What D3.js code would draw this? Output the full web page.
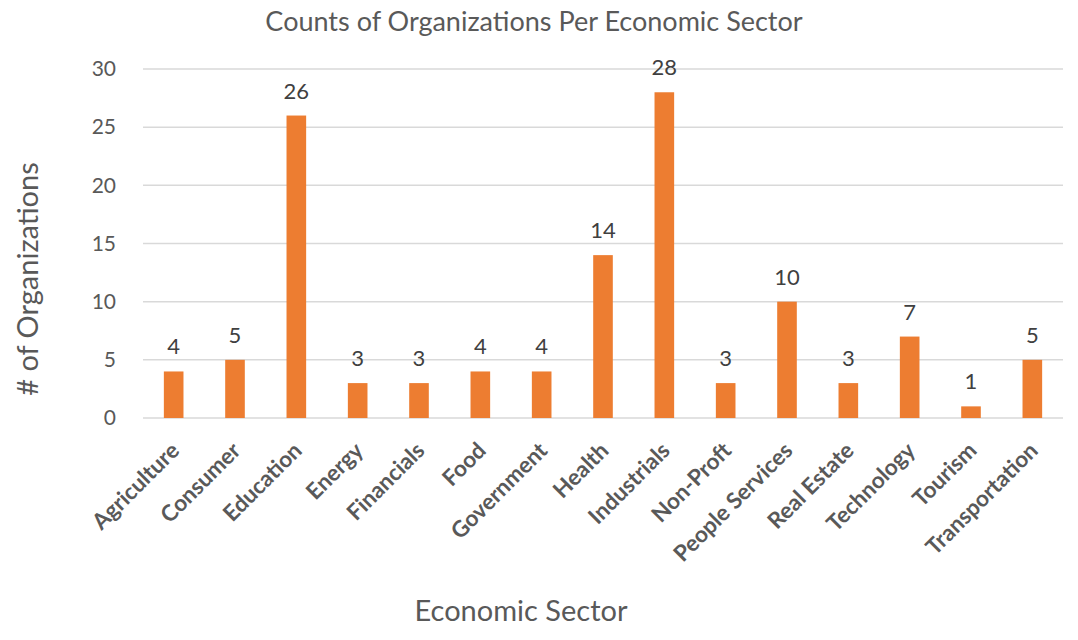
<!DOCTYPE html>
<html>
<head>
<meta charset="utf-8">
<script src="https://cdn.jsdelivr.net/npm/d3@7"></script>
<style>
  body { margin: 0; background: #fff; }
  text { font-family: Lato, "Open Sans", sans-serif; }
</style>
</head>
<body>
<div id="main"></div>
<script>
const sectors = ["Agriculture", "Consumer", "Education", "Energy", "Financials", "Food",
    "Government", "Health", "Industrials", "Non-Proft", "People Services", "Real Estate",
    "Technology", "Tourism", "Transportation"];
const counts = [4, 5, 26, 3, 3, 4, 4, 14, 28, 3, 10, 3, 7, 1, 5];
const yTicks = [0, 5, 10, 15, 20, 25, 30];

const ctx = { w: 1078, h: 640 };
const margin = { top: 69, right: 15, bottom: 222, left: 143 };

function createViz() {
    const svg = d3.select("#main").append("svg")
        .attr("width", ctx.w)
        .attr("height", ctx.h);

    const x = d3.scaleBand()
        .domain(sectors)
        .range([margin.left, ctx.w - margin.right])
        .paddingInner(0.68)
        .paddingOuter(0.34);

    const y = d3.scaleLinear()
        .domain([0, 30])
        .range([ctx.h - margin.bottom, margin.top]);

    // gridlines
    svg.append("g")
        .selectAll("line")
        .data(yTicks)
        .enter().append("line")
        .attr("x1", margin.left)
        .attr("x2", ctx.w - margin.right)
        .attr("y1", d => y(d))
        .attr("y2", d => y(d))
        .attr("stroke", "#d9d9d9")
        .attr("stroke-width", 1.5);

    // y axis labels
    const yAxis = d3.axisLeft(y).tickValues(yTicks).tickSize(0).tickPadding(27);
    const yG = svg.append("g")
        .attr("transform", `translate(${margin.left},0)`)
        .call(yAxis);
    yG.select(".domain").remove();
    yG.selectAll("text")
        .attr("fill", "#595959")
        .style("font-size", "21px")
        .style("font-family", "Lato, sans-serif");

    // bars
    svg.append("g")
        .selectAll("rect")
        .data(counts)
        .enter().append("rect")
        .attr("x", (d, i) => x(sectors[i]))
        .attr("y", d => y(d))
        .attr("width", x.bandwidth())
        .attr("height", d => y(0) - y(d))
        .attr("fill", "#ed7d31");

    // data labels
    svg.append("g")
        .selectAll("text")
        .data(counts)
        .enter().append("text")
        .attr("x", (d, i) => x(sectors[i]) + x.bandwidth() / 2)
        .attr("y", d => y(d) - 17)
        .attr("text-anchor", "middle")
        .attr("fill", "#404040")
        .style("font-size", "22px")
        .text(d => d);

    // x axis labels, rotated
    const xAxis = d3.axisBottom(x).tickSize(0).tickPadding(0);
    const xG = svg.append("g")
        .attr("transform", `translate(0,${y(0)})`)
        .call(xAxis);
    xG.select(".domain").remove();
    xG.selectAll("text")
        .attr("fill", "#595959")
        .style("font-size", "22.5px")
        .style("font-weight", "bold")
        .style("font-family", "Lato, sans-serif")
        .style("text-anchor", "end")
        .attr("dy", 0)
        .attr("transform", "translate(7,34) rotate(-45)");

    // title
    svg.append("text")
        .attr("x", 534)
        .attr("y", 31)
        .attr("text-anchor", "middle")
        .attr("fill", "#595959")
        .style("font-size", "27px")
        .text("Counts of Organizations Per Economic Sector");

    // axis titles
    svg.append("text")
        .attr("x", 521)
        .attr("y", 621)
        .attr("text-anchor", "middle")
        .attr("fill", "#595959")
        .style("font-size", "29px")
        .text("Economic Sector");

    svg.append("text")
        .attr("transform", "translate(38,279) rotate(-90)")
        .attr("text-anchor", "middle")
        .attr("fill", "#595959")
        .style("font-size", "29px")
        .text("# of Organizations");
}

createViz();
</script>
</body>
</html>
